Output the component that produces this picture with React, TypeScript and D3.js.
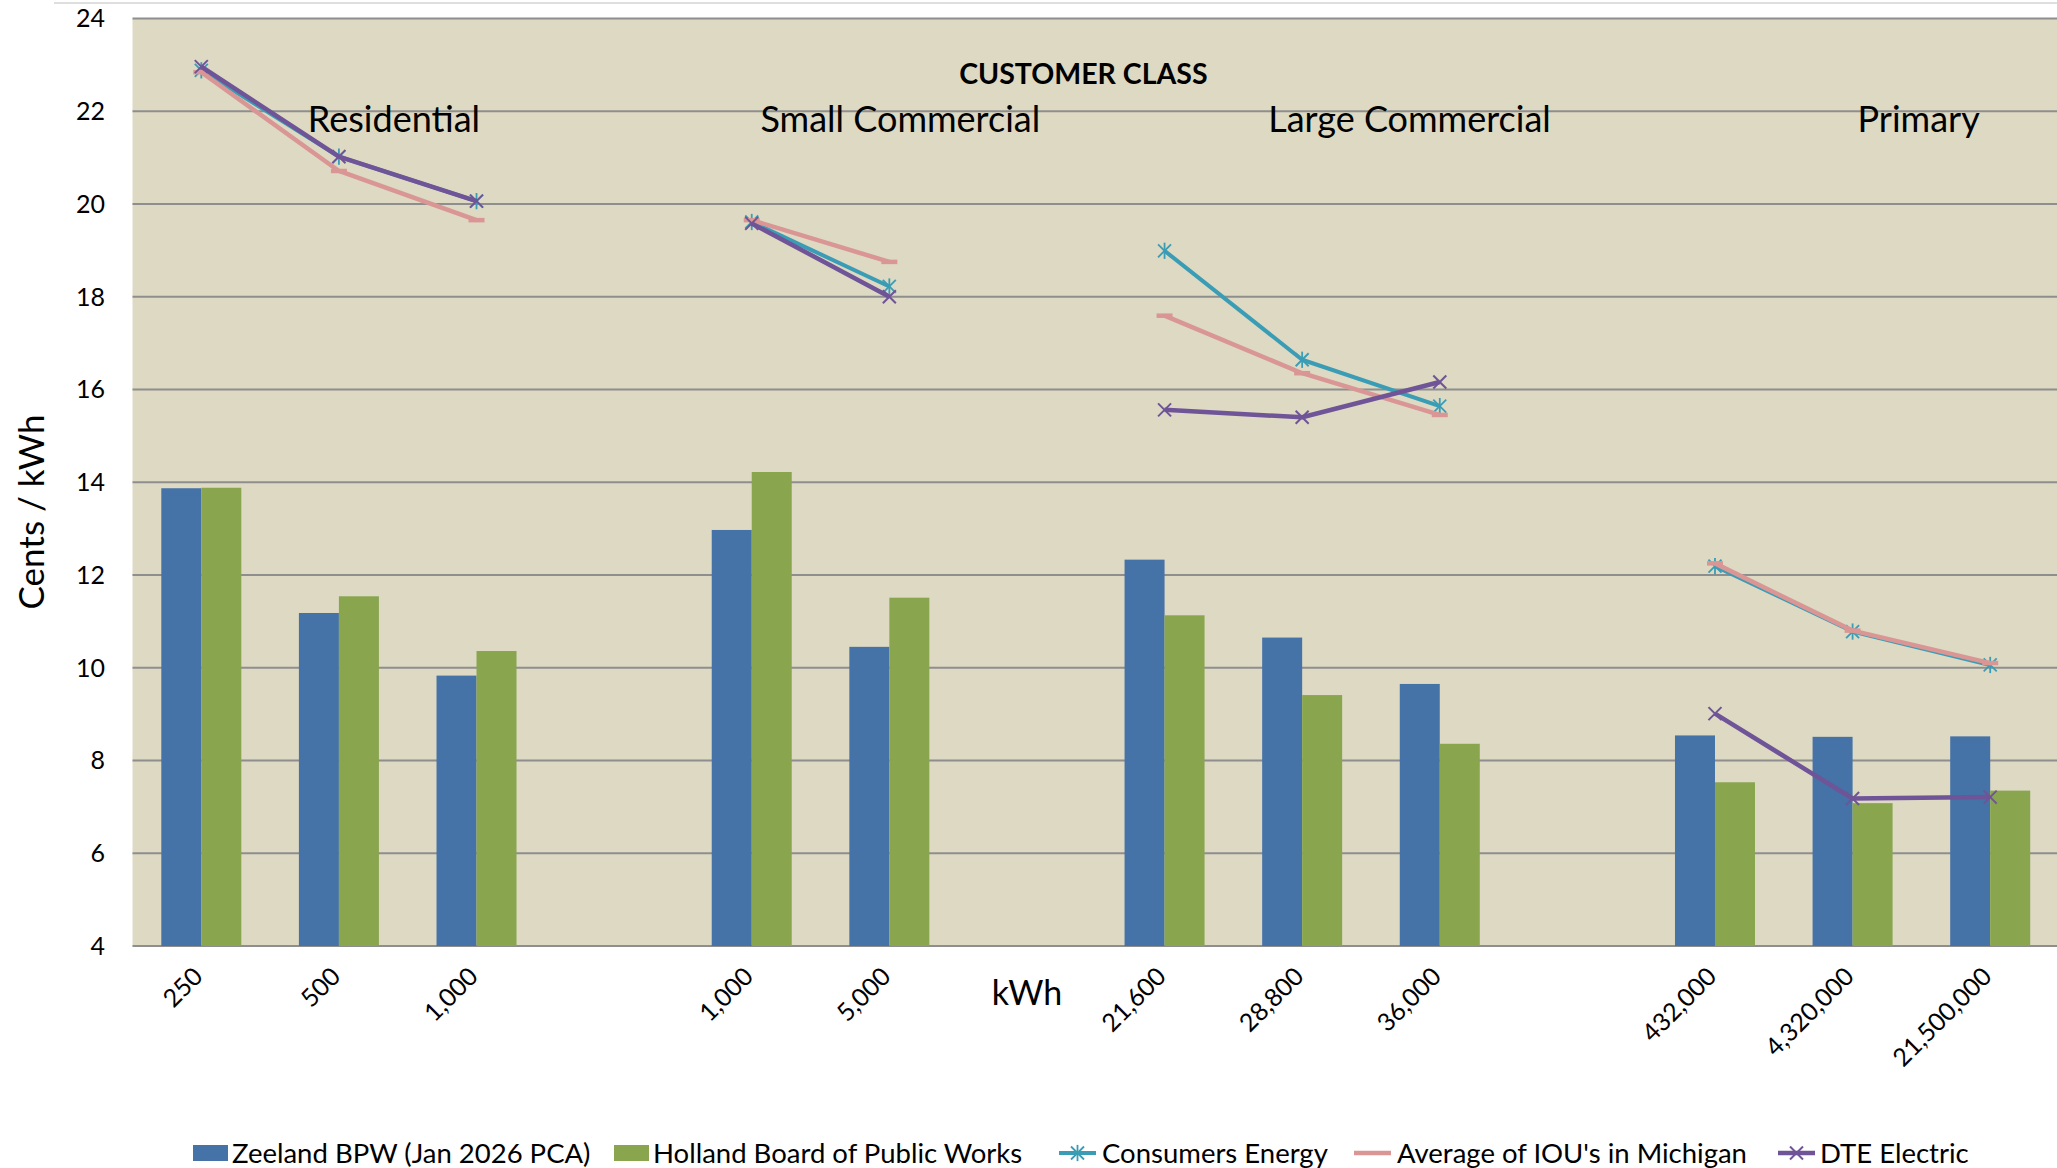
import React from 'react';
import * as d3 from 'd3';

// ---------- data ----------
const tickLabels = ["250", "500", "1,000", "", "1,000", "5,000", "", "21,600", "28,800", "36,000", "", "432,000", "4,320,000", "21,500,000"];
const zeeland = [13.87, 11.18, 9.83, null, 12.97, 10.45, null, 12.33, 10.65, 9.65, null, 8.54, 8.51, 8.52];
const holland = [13.88, 11.54, 10.36, null, 14.22, 11.51, null, 11.13, 9.41, 8.36, null, 7.53, 7.08, 7.35];
const consumers = [22.88, 21.02, 20.06, null, 19.61, 18.22, null, 18.99, 16.64, 15.64, null, 12.19, 10.78, 10.06];
const averageIOU = [22.84, 20.71, 19.65, null, 19.65, 18.75, null, 17.59, 16.35, 15.45, null, 12.25, 10.8, 10.1];
const dte = [22.96, 21.02, 20.06, null, 19.58, 18.0, null, 15.56, 15.4, 16.16, null, 9.01, 7.18, 7.21];
const yTicks = [4, 6, 8, 10, 12, 14, 16, 18, 20, 22, 24];
const classLabels = ["Residential", "Small Commercial", "Large Commercial", "Primary"];
const classPositions = [1.9, 5.58, 9.28, 12.98]; // in category units
const legendLabels = ["Zeeland BPW (Jan 2026 PCA)", "Holland Board of Public Works", "Consumers Energy", "Average of IOU's in Michigan", "DTE Electric"];

// ---------- style ----------
const W = 2057, H = 1168;
const L = 132.5, R = 2059, T = 18.4, B = 946;
const C = {
  bg: '#DDD9C3', grid: '#8E8E8E', blue: '#4572A7', green: '#89A54E',
  teal: '#3A9DB5', pink: '#D99694', purple: '#6F5497'
};
const FONT = 'Lato, "Noto Sans", sans-serif';

function Star({ x, y, s, color }: any) {
  return (
    <g stroke={color} strokeWidth={1.8}>
      <line x1={x - s} y1={y - s} x2={x + s} y2={y + s} />
      <line x1={x - s} y1={y + s} x2={x + s} y2={y - s} />
      <line x1={x} y1={y - s * 1.25} x2={x} y2={y + s * 1.25} />
    </g>
  );
}
function XMark({ x, y, s, color }: any) {
  return (
    <g stroke={color} strokeWidth={2}>
      <line x1={x - s} y1={y - s} x2={x + s} y2={y + s} />
      <line x1={x - s} y1={y + s} x2={x + s} y2={y - s} />
    </g>
  );
}
function Dash({ x, y, s, color }: any) {
  return <line x1={x - s} y1={y} x2={x + s} y2={y} stroke={color} strokeWidth={4.5} />;
}

export default function App() {
  const idx = d3.range(tickLabels.length);
  const x = d3.scaleBand<number>().domain(idx).range([L, R]).paddingInner(0).paddingOuter(0);
  const cx = (i: number) => (x(i) as number) + x.bandwidth() / 2;
  const catPos = d3.scaleLinear().domain([0, tickLabels.length]).range([L, R]);
  const y = d3.scaleLinear().domain([4, 24]).range([B, T]);
  const barW = 40;

  const line = d3.line<number | null>()
    .defined(d => d != null)
    .x((_, i) => cx(i))
    .y(d => y(d as number));

  const lineSeries = [
    { vals: consumers, color: C.teal, width: 4, marker: 'star' },
    { vals: averageIOU, color: C.pink, width: 4.5, marker: 'dash' },
    { vals: dte, color: C.purple, width: 4.5, marker: 'x' },
  ];

  const renderMarker = (m: string, px: number, py: number, color: string, key: any) => {
    if (m === 'star') return <Star key={key} x={px} y={py} s={6.5} color={color} />;
    if (m === 'x') return <XMark key={key} x={px} y={py} s={6.5} color={color} />;
    return <Dash key={key} x={px} y={py} s={8} color={color} />;
  };

  const legendX = [193, 614, 1059, 1354, 1778];
  const legendTextX = [232, 653, 1102, 1397, 1820];
  const legendY = 1153;

  return (
    <svg width={W} height={H} style={{ position: 'absolute', left: 0, top: 0 }} fontFamily={FONT}>
      <rect x={0} y={0} width={W} height={H} fill="#fff" />
      <line x1={54} y1={3} x2={W} y2={3} stroke="#D4D4D4" strokeWidth={1.5} />
      <rect x={L} y={T} width={R - L} height={B - T} fill={C.bg} />
      {yTicks.map(t => (
        <line key={t} x1={L} x2={R} y1={y(t)} y2={y(t)} stroke={C.grid} strokeWidth={2} />
      ))}
      {yTicks.map(t => (
        <text key={'yt' + t} x={105} y={y(t)} dy="0.36em" textAnchor="end" fontSize={25} fill="#000">{t}</text>
      ))}
      <text transform={`translate(44,512) rotate(-90)`} textAnchor="middle" fontSize={35} fill="#000">Cents / kWh</text>

      {/* bars */}
      {zeeland.map((v, i) => v == null ? null : (
        <rect key={'z' + i} x={cx(i) - barW} y={y(v)} width={barW} height={B - y(v)} fill={C.blue} />
      ))}
      {holland.map((v, i) => v == null ? null : (
        <rect key={'h' + i} x={cx(i)} y={y(v)} width={barW} height={B - y(v)} fill={C.green} />
      ))}

      {/* lines */}
      {lineSeries.map((s, si) => (
        <g key={'ls' + si}>
          <path d={line(s.vals) || ''} fill="none" stroke={s.color} strokeWidth={s.width} strokeLinejoin="round" />
          {s.vals.map((v, i) => v == null ? null : renderMarker(s.marker, cx(i), y(v), s.color, i))}
        </g>
      ))}

      {/* x tick labels */}
      {tickLabels.map((t, i) => t === '' ? null : (
        <text key={'xt' + i} transform={`translate(${cx(i) + 3},${B + 32}) rotate(-45)`} textAnchor="end" fontSize={25} fill="#000">{t}</text>
      ))}
      <text x={cx(6)} y={1005} textAnchor="middle" fontSize={34} fill="#000">kWh</text>

      {/* annotations */}
      <text x={catPos(6.91)} y={84} textAnchor="middle" fontSize={28.5} fontWeight="bold" fill="#000">CUSTOMER CLASS</text>
      {classLabels.map((c, i) => (
        <text key={c} x={catPos(classPositions[i])} y={132} textAnchor="middle" fontSize={36} fill="#000">{c}</text>
      ))}

      {/* legend */}
      <rect x={legendX[0]} y={legendY - 8} width={35} height={16} fill={C.blue} />
      <rect x={legendX[1]} y={legendY - 8} width={35} height={16} fill={C.green} />
      {lineSeries.map((s, si) => (
        <g key={'lg' + si}>
          <line x1={legendX[si + 2]} x2={legendX[si + 2] + 37} y1={legendY} y2={legendY} stroke={s.color} strokeWidth={s.width} />
          {s.marker !== 'dash' ? renderMarker(s.marker, legendX[si + 2] + 18.5, legendY, s.color, 'm') : null}
        </g>
      ))}
      {legendLabels.map((l, i) => (
        <text key={l} x={legendTextX[i]} y={legendY} dy="0.36em" fontSize={27.5} fill="#000">{l}</text>
      ))}
    </svg>
  );
}
